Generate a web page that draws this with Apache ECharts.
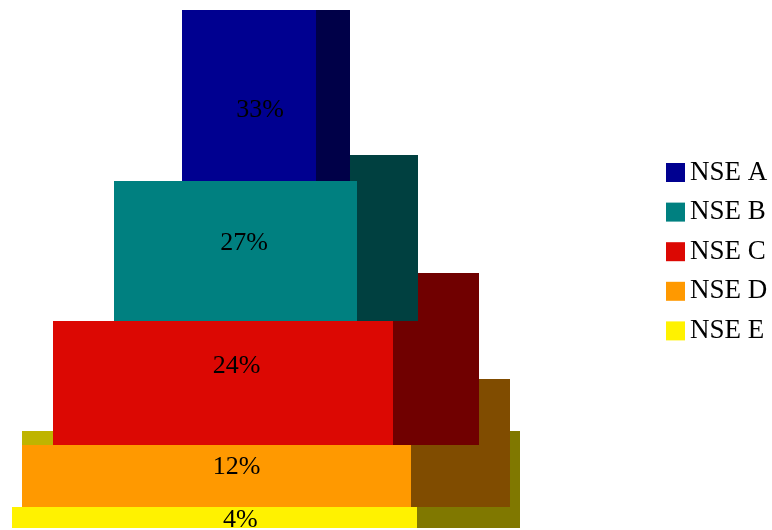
<!DOCTYPE html>
<html>
<head>
<meta charset="utf-8">
<script src="https://cdn.jsdelivr.net/npm/echarts@6/dist/echarts.min.js"></script>
<style>
  html, body { margin: 0; padding: 0; background: #ffffff; }
  #chart { width: 772px; height: 530px; }
</style>
</head>
<body>
<div id="chart"></div>
<script>
// Segment names and their shares (percent), top of the pyramid first
const categories = ['NSE A', 'NSE B', 'NSE C', 'NSE D', 'NSE E'];
const shares = [33, 27, 24, 12, 4];

// Face colours of each layer
const frontColors = ['#000090', '#008080', '#dc0803', '#ff9900', '#fff200'];
const sideColors  = ['#000048', '#004040', '#700000', '#804c00', '#807800'];
const topColors   = ['#000048', '#004040', '#700000', '#804c00', '#bfb400'];

// Small pixel nudges for the value labels [dx, dy] from the front-face centre
const labelNudge = [[11, 15], [9, -8], [14, -17], [20, -9], [26, 3]];

const FRONT_RATIO = 0.797; // part of a layer's width used by its front face
const DEPTH = 0.153;       // receding depth of a layer's top face, per unit of its top

// Cumulative start / end of every layer along the vertical axis
const bounds = [];
let acc = 0;
shares.forEach(v => { bounds.push([acc, acc + v]); acc += v; });

function layerRenderer(i) {
  return function (params, api) {
    const top = bounds[i][0];
    const bot = bounds[i][1];
    const left = -bot / 2;
    const right = bot / 2;
    const backLeft = -top / 2;
    const frontRight = left + FRONT_RATIO * bot;
    const backTop = top - DEPTH * top;

    // faces are snapped to whole pixels so touching edges stay crisp
    const rect = (x0, y0, x1, y1, fill) => {
      const p0 = api.coord([x0, y0]).map(Math.round);
      const p1 = api.coord([x1, y1]).map(Math.round);
      return {
        type: 'rect',
        shape: { x: p0[0], y: p0[1], width: p1[0] - p0[0], height: p1[1] - p0[1] },
        style: { fill: fill }
      };
    };

    const children = [];
    if (top > 0) {
      // receding block behind the front face (side colour)
      children.push(rect(backLeft, backTop, right, bot, sideColors[i]));
      // top face
      children.push(rect(backLeft, backTop, frontRight, top, topColors[i]));
    }
    // side face
    children.push(rect(frontRight, top, right, bot, sideColors[i]));
    // front face
    children.push(rect(left, top, frontRight, bot, frontColors[i]));

    const c0 = api.coord([left, top]);
    const c1 = api.coord([frontRight, bot]);
    children.push({
      type: 'text',
      style: {
        text: shares[i] + '%',
        x: (c0[0] + c1[0]) / 2 + labelNudge[i][0],
        y: (c0[1] + c1[1]) / 2 + labelNudge[i][1],
        align: 'center',
        verticalAlign: 'middle',
        fill: '#000000',
        fontSize: 26,
        fontFamily: 'Liberation Serif'
      }
    });
    return { type: 'group', children: children };
  };
}

// Draw from the base layer upward so upper layers overlap the lower ones
const series = [];
for (let i = categories.length - 1; i >= 0; i--) {
  series.push({
    name: categories[i],
    type: 'custom',
    coordinateSystem: 'cartesian2d',
    clip: false,
    silent: true,
    z: 10 + (categories.length - i),
    itemStyle: { color: frontColors[i] },
    renderItem: layerRenderer(i),
    data: [[0, bounds[i][0]]]
  });
}

const chart = echarts.init(document.getElementById('chart'), null, { renderer: 'canvas' });
chart.setOption({
  animation: false,
  backgroundColor: '#ffffff',
  grid: { left: 12, top: 10, width: 508, height: 518 },
  xAxis: { type: 'value', min: -50, max: 50, show: false },
  yAxis: { type: 'value', min: 0, max: 100, inverse: true, show: false },
  legend: {
    data: categories,
    orient: 'vertical',
    left: 666,
    top: 159,
    padding: 0,
    itemWidth: 19,
    itemHeight: 19,
    itemGap: 12.6,
    icon: 'rect',
    selectedMode: false,
    textStyle: {
      fontFamily: 'Liberation Serif',
      fontSize: 27,
      lineHeight: 19,
      color: '#000000',
      padding: [0, 0, 0, 0]
    }
  },
  series: series
});
</script>
</body>
</html>
